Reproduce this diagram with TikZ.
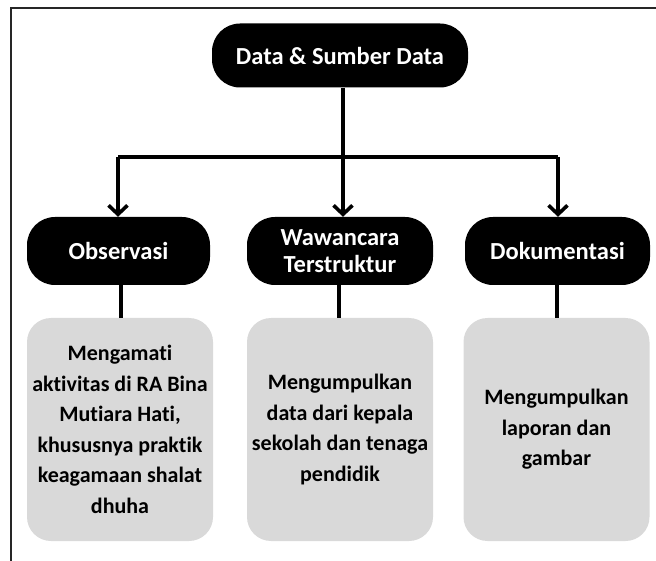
\documentclass[tikz,border=0pt]{standalone}
\usepackage{fontspec}
\setmainfont{Carlito}[Ligatures=NoCommon]
\usetikzlibrary{arrows.meta,positioning}
\definecolor{boxgray}{HTML}{D9D9D9}
\tikzset{
  x=1pt,y=-1pt,
  headbox/.style={fill=black,text=white,rounded corners=28pt,minimum height=64pt,
    align=center,font=\bfseries\fontsize{24.5}{27.5}\selectfont,inner sep=0pt},
  grayb/.style={fill=boxgray,rounded corners=24pt,minimum width=186pt,minimum height=223pt,
    align=center,font=\bfseries\fontsize{22}{30.5}\selectfont,text=black,inner sep=0pt},
  conn/.style={line width=3.6pt,black},
  arr/.style={conn,-{Straight Barb[length=9pt,width=19pt,line width=3.6pt]}},
  frame/.style={line width=2pt,black!85}
}
\begin{document}
\begin{tikzpicture}
\useasboundingbox (0,0) rectangle (656,561);
\draw[frame] (656,8) -- (11,8) -- (11,561);
\node[headbox,minimum width=256pt] (top) at (340,55.5) {Data \& Sumber Data};
\node[headbox,minimum width=183pt,minimum height=68pt] (obs) at (118.5,251) {Observasi};
\node[headbox,minimum width=186pt,minimum height=68pt] (waw) at (340,251) {Wawancara\\Terstruktur};
\node[headbox,minimum width=185pt,minimum height=68pt] (dok) at (557.5,251) {Dokumentasi};
\node[grayb] (g1) at (120,429.5) {Mengamati\\aktivitas di RA Bina\\Mutiara Hati,\\khususnya praktik\\keagamaan shalat\\dhuha};
\node[grayb] (g2) at (340,429.5) {Mengumpulkan\\data dari kepala\\sekolah dan tenaga\\pendidik};
\node[grayb] (g3) at (556.5,429.5) {Mengumpulkan\\laporan dan\\gambar};
\coordinate (j) at (343,157);
\coordinate (jl) at (118,157);
\coordinate (jr) at (558,157);
\draw[conn] (top.south -| j) -- (j);
\draw[conn] (jl) -- (jr);
\draw[arr] (jl) -- (obs.north -| jl);
\draw[arr] (j) -- (waw.north -| j);
\draw[arr] (jr) -- (dok.north -| jr);
\draw[conn] (obs.south -| 121,0) -- (g1.north -| 121,0);
\draw[conn] (waw.south -| 339,0) -- (g2.north -| 339,0);
\draw[conn] (dok.south -| 557,0) -- (g3.north -| 557,0);
\end{tikzpicture}
\end{document}
